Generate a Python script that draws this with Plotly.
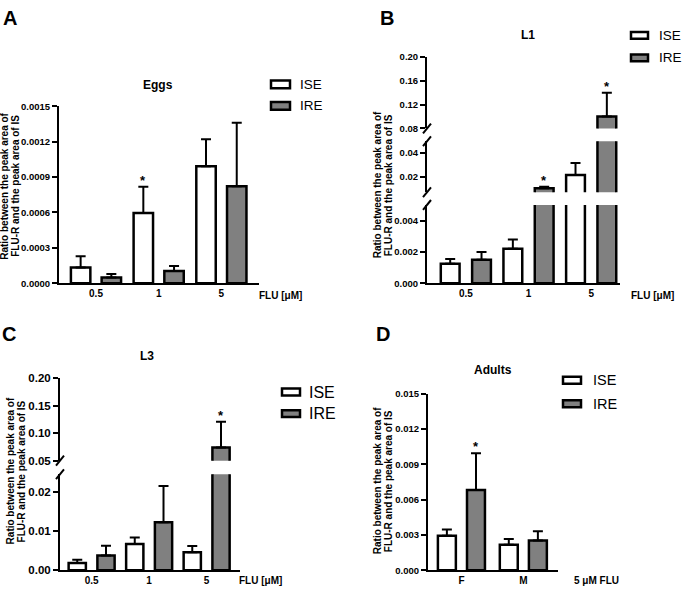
import plotly.graph_objects as go

W, H = 685, 594
FONT = "Liberation Sans, Arial, sans-serif"
GREY = "#808080"

# ---- values ----
flu_doses = ["0.5", "1", "5"]
sexes = ["F", "M"]

eggs_ise = [0.000133, 0.000596, 0.000992]
eggs_ise_sd = [0.000097, 0.000222, 0.000228]
eggs_ire = [0.000050, 0.000105, 0.000823]
eggs_ire_sd = [0.000028, 0.000042, 0.000537]
eggs_ise_sig = [False, True, False]
eggs_ire_sig = [False, False, False]

l1_ise = [0.00125, 0.0022, 0.0215]
l1_ise_sd = [0.0003, 0.0006, 0.0102]
l1_ire = [0.0015, 0.0102, 0.100]
l1_ire_sd = [0.0005, 0.0013, 0.040]
l1_ise_sig = [False, False, False]
l1_ire_sig = [False, True, True]

l3_ise = [0.0019, 0.0067, 0.0046]
l3_ise_sd = [0.0008, 0.0017, 0.0016]
l3_ire = [0.0038, 0.0123, 0.0738]
l3_ire_sd = [0.0025, 0.0092, 0.0472]
l3_ise_sig = [False, False, False]
l3_ire_sig = [False, False, True]

adult_ise = [0.00294, 0.00217]
adult_ise_sd = [0.00053, 0.00050]
adult_ire = [0.00683, 0.00253]
adult_ire_sd = [0.00311, 0.00080]
adult_ise_sig = [False, False]
adult_ire_sig = [True, False]


def fx(p):
    return p / W


def fy(p):
    return 1 - p / H


fig = go.Figure()
layout = {}
annotations = []
shapes = []
n_ax = [0]


def new_axes():
    n_ax[0] += 1
    s = "" if n_ax[0] == 1 else str(n_ax[0])
    return "xaxis" + s, "yaxis" + s, "x" + s, "y" + s


def add_panel(cats, ise, ise_sd, ire, ire_sd, ise_sig, ire_sig,
              x_px, x_range, segments, bar_w, ise_off, ire_off, xtick_size=10):
    # one subplot per y segment (broken axes), bottom segment carries the x axis
    for j, seg in enumerate(segments):
        xa, ya, xr, yr = new_axes()
        layout[xa] = dict(
            domain=[fx(x_px[0]), fx(x_px[1])], range=x_range, type="category",
            categoryorder="array", categoryarray=cats, anchor=yr, visible=(j == 0),
            showline=True, linecolor="black", linewidth=2, ticks="",
            showgrid=False, zeroline=False, fixedrange=True,
            tickfont=dict(family=FONT, size=xtick_size, color="black", weight="bold"),
        )
        layout[ya] = dict(
            domain=[fy(seg["px"][0]), fy(seg["px"][1])], range=seg["range"], anchor=xr,
            tickvals=seg["ticks"], tickformat=seg["fmt"], showline=True, linecolor="black",
            linewidth=2, ticks="outside", ticklen=5, tickwidth=2, tickcolor="black",
            showgrid=False, zeroline=False, fixedrange=True,
            tickfont=dict(family=FONT, size=seg.get("size", 9.5), color="black", weight="bold"),
        )
        for vals, sd, off, color in ((ise, ise_sd, ise_off, "white"), (ire, ire_sd, ire_off, GREY)):
            fig.add_trace(go.Bar(
                x=cats, y=vals, xaxis=xr, yaxis=yr, offset=off, width=bar_w,
                marker=dict(color=color, line=dict(color="black", width=2.5)),
                error_y=dict(type="data", array=sd, arrayminus=[0] * len(sd), symmetric=False,
                             color="black", thickness=2, width=5),
                showlegend=False, hoverinfo="skip",
            ))
        lo, hi = seg["range"]
        for vals, sd, sig, off in ((ise, ise_sd, ise_sig, ise_off), (ire, ire_sd, ire_sig, ire_off)):
            for i, (v, e, s) in enumerate(zip(vals, sd, sig)):
                top = v + e
                if s and lo <= top <= hi:
                    annotations.append(dict(
                        xref=xr, yref=yr, x=i + off + bar_w / 2, y=top, text="*",
                        showarrow=False, yanchor="bottom", yshift=-3,
                        font=dict(family=FONT, size=13, color="black", weight="bold"),
                    ))


def add_break(x, y):
    shapes.append(dict(type="line", xref="paper", yref="paper",
                       x0=fx(x - 4), y0=fy(y + 5), x1=fx(x + 4), y1=fy(y - 5),
                       line=dict(color="black", width=2)))


def add_text(x, y, text, size, bold=True, xanchor="center", angle=0):
    annotations.append(dict(
        xref="paper", yref="paper", x=fx(x), y=fy(y), text=text, showarrow=False,
        xanchor=xanchor, yanchor="middle", textangle=angle,
        font=dict(family=FONT, size=size, color="black", weight="bold" if bold else "normal"),
    ))


def add_legend(x0, w, h, y_ise, y_ire, tx, size):
    for yc, color, name in ((y_ise, "white", "ISE"), (y_ire, GREY, "IRE")):
        shapes.append(dict(type="rect", xref="paper", yref="paper",
                           x0=fx(x0), x1=fx(x0 + w), y0=fy(yc + h / 2), y1=fy(yc - h / 2),
                           fillcolor=color, line=dict(color="black", width=2.5)))
        add_text(tx, yc, name, size, bold=False, xanchor="left")


def add_ytitle(x1, x2, yc, size=10):
    add_text(x1, yc, "Ratio between the peak area of", size, angle=-90)
    add_text(x2, yc, "FLU-R and the peak area of IS", size, angle=-90)


# A - eggs
add_panel(flu_doses, eggs_ise, eggs_ise_sd, eggs_ire, eggs_ire_sd, eggs_ise_sig, eggs_ire_sig,
          (59, 259), [-0.59, 2.6],
          [dict(px=(283, 102.3), range=[0, 0.0015],
                ticks=[0, 0.0003, 0.0006, 0.0009, 0.0012, 0.0015], fmt=".4f")],
          0.31, -0.4, 0.09)
add_text(10, 12, "A", 20)
add_text(158, 81, "Eggs", 12)
add_legend(271, 19, 8, 80, 102, 298, 13.5)
add_text(257, 295, "FLU [μM]", 10, xanchor="left")
add_ytitle(4.5, 15.5, 184)

# B - L1 (broken axis)
add_panel(flu_doses, l1_ise, l1_ise_sd, l1_ire, l1_ire_sd, l1_ise_sig, l1_ire_sig,
          (427, 620), [-0.62, 2.46],
          [dict(px=(283, 203), range=[0, 0.005], ticks=[0, 0.002, 0.004], fmt=".3f"),
           dict(px=(190, 138), range=[0.007, 0.05], ticks=[0.02, 0.04], fmt=".2f"),
           dict(px=(125, 52), range=[0.08, 0.20], ticks=[0.08, 0.12, 0.16, 0.20], fmt=".2f")],
          0.3, -0.4, 0.1)
for yb in (203, 190, 138, 125):
    add_break(427, yb)
add_text(387, 12, "B", 20)
add_text(528, 30, "L1", 12)
add_legend(631, 17, 7, 30, 53, 657, 13.5)
add_text(629, 295, "FLU [μM]", 10, xanchor="left")
add_ytitle(377, 388, 183)

# C - L3 (broken axis)
add_panel(flu_doses, l3_ise, l3_ise_sd, l3_ire, l3_ire_sd, l3_ise_sig, l3_ire_sig,
          (60, 240), [-0.55, 2.58],
          [dict(px=(576, 478), range=[0, 0.0245], ticks=[0, 0.01, 0.02], fmt=".2f", size=11.5),
           dict(px=(464, 380), range=[0.05, 0.20], ticks=[0.05, 0.10, 0.15, 0.20], fmt=".2f",
                size=11.5)],
          0.3, -0.4, 0.1)
for yb in (478, 464):
    add_break(60, yb)
add_text(9, 335, "C", 20)
add_text(147, 357, "L3", 12)
add_legend(282, 18, 7, 394, 416, 307, 16)
add_text(237, 586, "FLU [μM]", 10, xanchor="left")
add_ytitle(10, 21, 475)

# D - adults
add_panel(sexes, adult_ise, adult_ise_sd, adult_ire, adult_ire_sd, adult_ise_sig, adult_ire_sig,
          (428, 558), [-0.54, 1.56],
          [dict(px=(576, 395.7), range=[0, 0.015],
                ticks=[0, 0.003, 0.006, 0.009, 0.012, 0.015], fmt=".3f")],
          0.29, -0.38, 0.09)
add_text(383, 335, "D", 20)
add_text(493, 372, "Adults", 12)
add_legend(563, 18, 7, 382, 406, 591, 14.5)
add_text(572, 586, "5 μM FLU", 10, xanchor="left")
add_ytitle(377, 388, 485)

fig.update_layout(
    width=W, height=H, margin=dict(l=0, r=0, t=0, b=0),
    paper_bgcolor="white", plot_bgcolor="white", barmode="overlay",
    showlegend=False, annotations=annotations, shapes=shapes,
    font=dict(family=FONT, color="black"),
    **layout,
)

# the page's default body margin would push the figure 8 px off the window
fig.write_html("out.html", post_script="document.body.style.margin = '0';",
               config={"displayModeBar": False})
